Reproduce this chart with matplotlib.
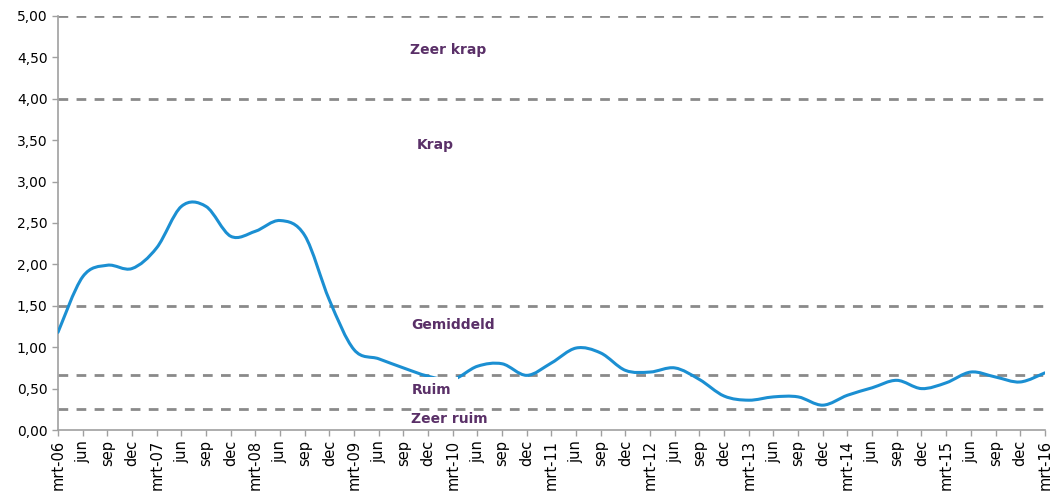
import numpy as np
import matplotlib
matplotlib.use('Agg')
import matplotlib.pyplot as plt
from matplotlib.path import Path
from matplotlib.patches import PathPatch, Rectangle

# quarterly tick labels, mrt-06 .. mrt-16
years = ['06', '07', '08', '09', '10', '11', '12', '13', '14', '15']
labels = []
for yy in years:
    labels += ['mrt-' + yy, 'jun', 'sep', 'dec']
labels.append('mrt-16')

values = [1.18, 1.85, 1.99, 1.95, 2.20, 2.70, 2.70, 2.34, 2.40, 2.53,
          2.35, 1.57, 0.97, 0.86, 0.75, 0.65, 0.61, 0.77, 0.80, 0.66,
          0.81, 0.99, 0.93, 0.72, 0.70, 0.75, 0.61, 0.41, 0.36, 0.40,
          0.40, 0.30, 0.42, 0.51, 0.60, 0.50, 0.57, 0.70, 0.64, 0.58,
          0.69]

thresholds = [0.25, 0.67, 1.5, 4.0, 5.0]
zone_names = ['Zeer krap', 'Krap', 'Gemiddeld', 'Ruim', 'Zeer ruim']
zone_pos = [(15.8, 4.59), (15.3, 3.44), (16.0, 1.27), (15.15, 0.48), (15.85, 0.13)]

LINE = '#1b8fd2'
GREY = '#8a8a8a'
PURPLE = '#5a3068'


def smooth_path(x, y):
    # bezier segments like excel's "smoothed line"
    pts = np.column_stack([x, y])
    n = len(pts)
    verts = [pts[0]]
    codes = [Path.MOVETO]
    for i in range(n - 1):
        p0 = pts[max(i - 1, 0)]
        p1 = pts[i]
        p2 = pts[i + 1]
        p3 = pts[min(i + 2, n - 1)]
        c1 = p1 + (p2 - p0) / 6.0
        c2 = p2 - (p3 - p1) / 6.0
        verts += [c1, c2, p2]
        codes += [Path.CURVE4] * 3
    return Path(verts, codes)


def main():
    fig = plt.figure(figsize=(10.64, 4.95), dpi=100)
    ax = fig.add_axes([0.0545, 0.1313, 0.9275, 0.8364])

    x = np.arange(len(values))
    for t in thresholds:
        ax.axhline(t, color=GREY, lw=2, ls=(0, (3.5, 3)), zorder=2)

    patch = PathPatch(smooth_path(x, values), facecolor='none',
                      edgecolor=LINE, lw=2.2, zorder=3, capstyle='round')
    ax.add_patch(patch)

    # white label box behind "Ruim" (hides a bit of the line, as in the original)
    ax.add_patch(Rectangle((14.1, 0.30), 2.1, 0.335, fc='white', ec='none',
                           zorder=3.5))

    for name, (px, py) in zip(zone_names, zone_pos):
        ax.text(px, py, name, ha='center', va='center', fontsize=10,
                fontweight='bold', color=PURPLE, zorder=4)

    ax.set_xlim(0, len(values) - 1)
    ax.set_ylim(0, 5)
    ax.set_xticks(x)
    ax.set_xticklabels(labels, rotation=90, fontsize=10.5)
    yt = np.arange(0, 5.01, 0.5)
    ax.set_yticks(yt)
    ax.set_yticklabels([('%.2f' % v).replace('.', ',') for v in yt], fontsize=10)
    ax.tick_params(axis='both', color='#a0a0a0', length=4, width=1)
    ax.tick_params(axis='x', pad=3)
    for s in ['top', 'right']:
        ax.spines[s].set_visible(False)
    for s in ['left', 'bottom']:
        ax.spines[s].set_color('#a0a0a0')
        ax.spines[s].set_linewidth(1.2)

    fig.savefig('out.png', dpi=100)


if __name__ == '__main__':
    main()
